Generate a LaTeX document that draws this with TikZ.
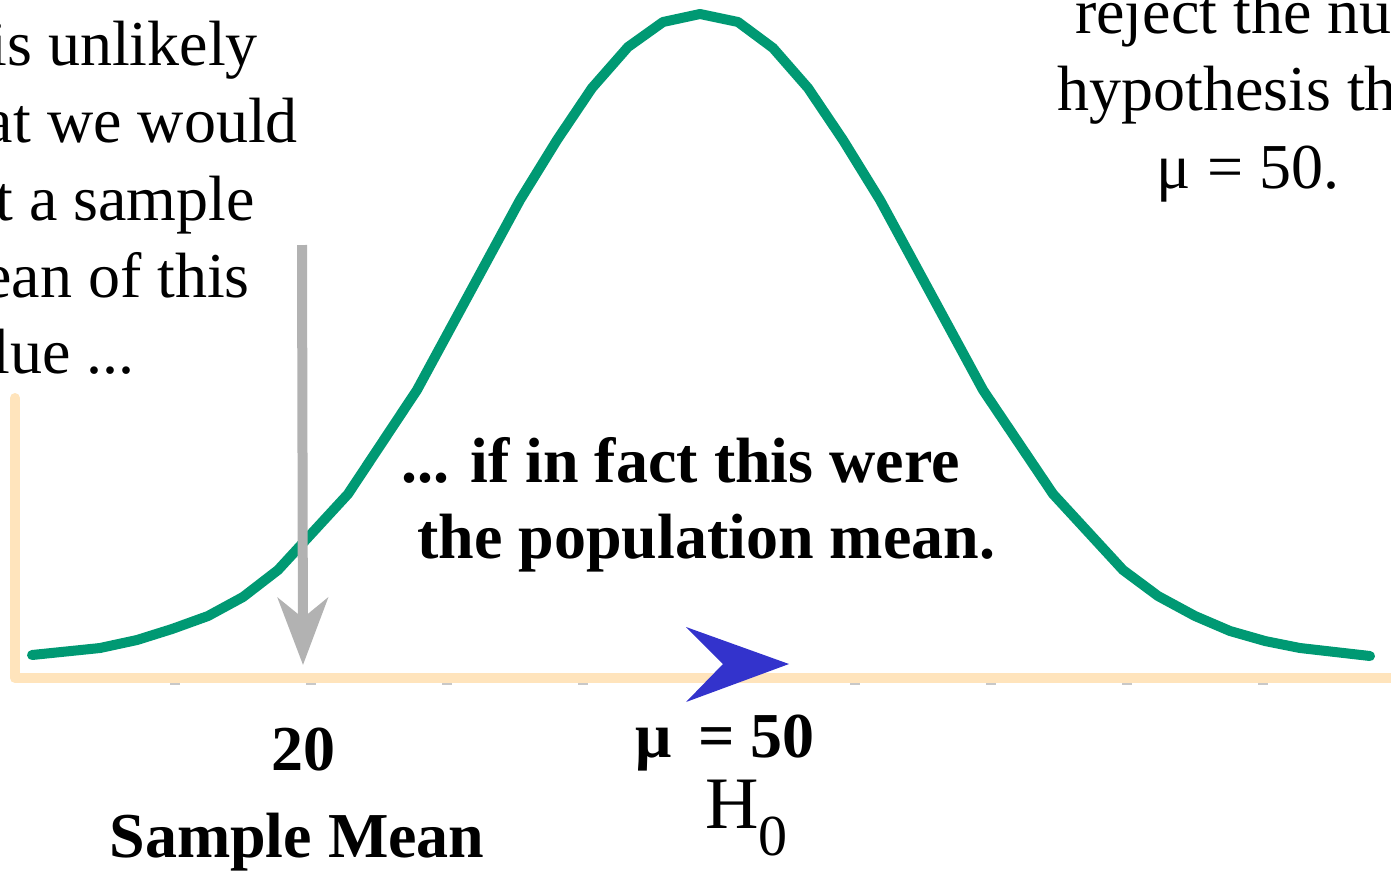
\documentclass[tikz,border=0pt]{standalone}
\usepackage{fontspec}
\setmainfont{Liberation Serif}
\usepackage{tikz}
\usetikzlibrary{arrows.meta}
\definecolor{curvegreen}{RGB}{0,153,115}
\definecolor{axisbeige}{RGB}{255,228,188}
\definecolor{arrowgray}{RGB}{178,178,178}
\definecolor{dartblue}{RGB}{51,51,204}
\definecolor{tickgray}{RGB}{200,200,200}

\begin{document}
\begin{tikzpicture}[
  x=1pt, y=-1pt,
  txt/.style={inner sep=0pt, font=\fontsize{64}{77}\selectfont},
  btxt/.style={inner sep=0pt, font=\fontsize{64}{77}\selectfont\bfseries},
  axisline/.style={axisbeige, line width=10pt, line cap=round, line join=round},
  tickmark/.style={tickgray, line width=10pt},
  normal/.style={curvegreen, line width=10pt, line cap=round, line join=round},
  pointer/.style={arrowgray, line width=10pt, -{Stealth[length=67pt, width=50pt, inset=20pt]}}
]
\clip (0,0) rectangle (1391,871);

% axis with its little ticks
\foreach \tx in {175,311,...,1263}
  \draw[tickmark] (\tx,678) -- (\tx,685);
\draw[axisline] (15,398) -- (15,678) -- (1400,678);

% sampling distribution under H0
\draw[normal] plot coordinates {(32,655) (100,648) (137,640) (172,629) (208,616)
  (243,597) (278,570) (348,494) (417,390) (520,200) (557,140) (592,88) (628,47)
  (663,22) (700,14) (738,22) (773,48) (808,88) (843,140) (880,200) (983,390)
  (1053,494) (1123,570) (1158,596) (1195,616) (1230,631) (1265,641) (1300,648)
  (1370,656)};

% mean marker
\fill[dartblue] (686,627) -- (789,664) -- (686,702) -- (723,664) -- cycle;

% left remark
\node[txt, anchor=base east] (l1) at (258,65) {is unlikely};
\node[txt, anchor=base east] (l2) at (298,142) {at we would};
\node[txt, anchor=base east] (l3) at (255,220) {t a sample};
\node[txt, anchor=base east] (l4) at (250,297) {ean of this};
\node[txt, anchor=base east] (l5) at (135,373) {lue ...};

% right remark
\node[txt, anchor=base west] (r1) at (1075,33) {reject the nu};
\node[txt, anchor=base west] (r2) at (1057,110) {hypothesis th};
\node[txt, anchor=base] (r3) at (1248,188) {μ = 50.};

% middle remark
\node[btxt, anchor=base west] (m1) at (401,482) {... if in fact this were};
\node[btxt, anchor=base west] (m2) at (417,558) {the population mean.};

% labels under the axis
\node[btxt, anchor=base] (xbar) at (303,770) {20};
\node[btxt, anchor=base] (xname) at (297,857) {Sample Mean};
\node[btxt, anchor=base east] (mu) at (815,757) {μ \,= 50};
\node[inner sep=0pt, anchor=base west, font=\fontsize{74}{80}\selectfont] (hnull) at (705,828)
  {H\raisebox{-27pt}{\fontsize{58}{58}\selectfont 0}};

% sample mean pointer
\coordinate (arrtop) at (302,245);
\coordinate (sample) at (303,665);
\draw[pointer] (arrtop) -- (sample);
\end{tikzpicture}
\end{document}
